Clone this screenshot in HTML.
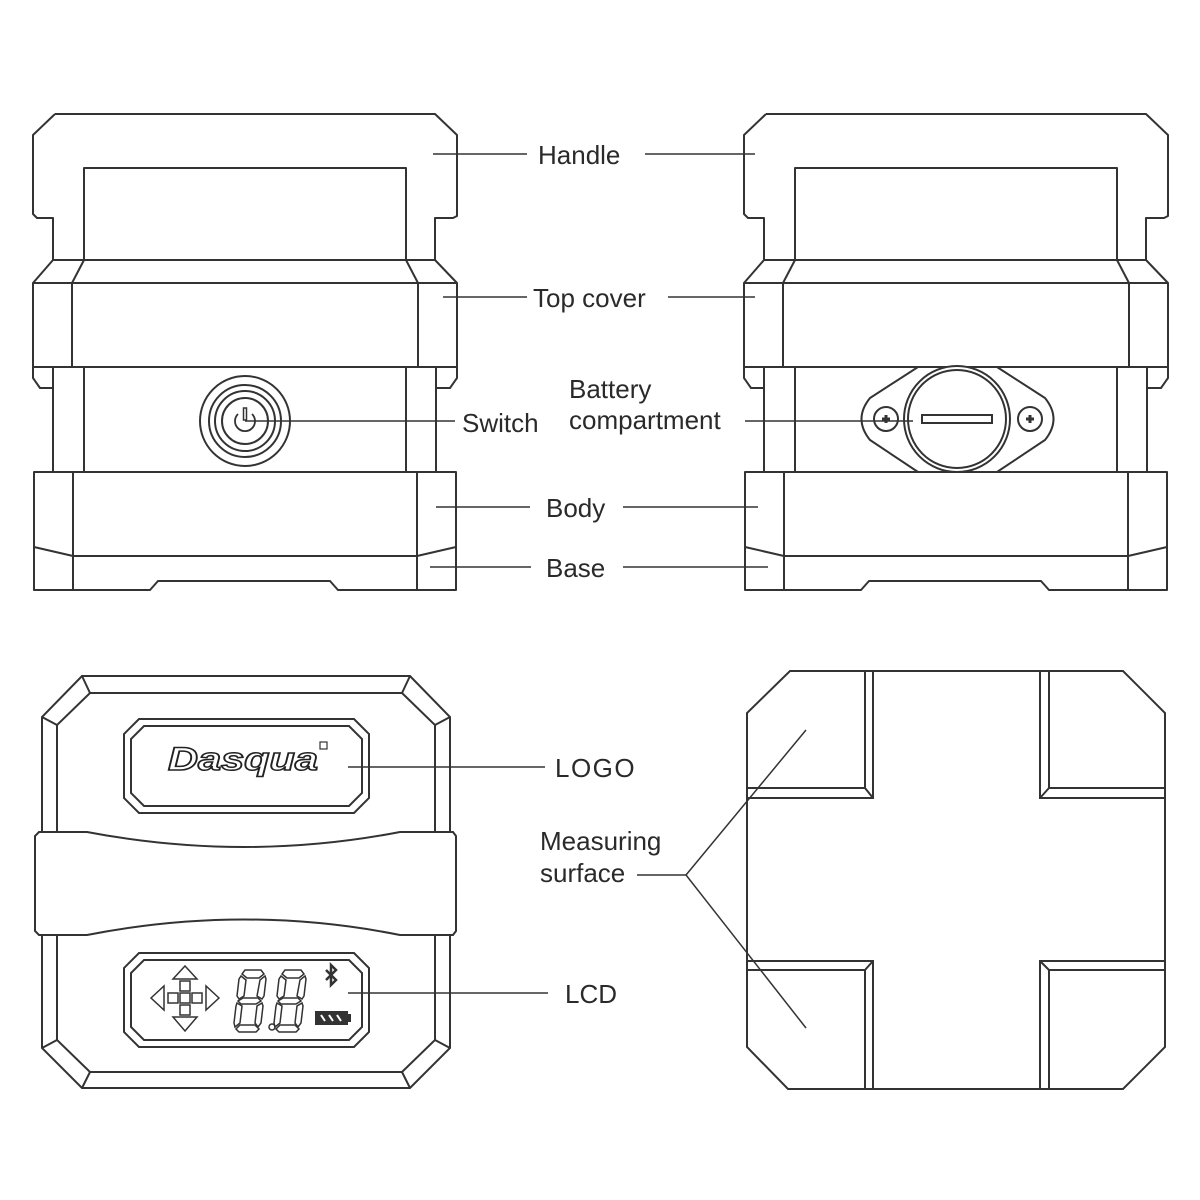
<!DOCTYPE html>
<html><head><meta charset="utf-8"><style>
html,body{margin:0;padding:0;background:#fff;}
svg{display:block;}
text{font-family:"Liberation Sans",sans-serif;fill:#2a2a2a;}
</style></head><body>
<svg width="1200" height="1200" viewBox="0 0 1200 1200" xmlns="http://www.w3.org/2000/svg">
<rect width="1200" height="1200" fill="#fff"/>
<defs>
<g id="dev" fill="none" stroke="#333" stroke-width="2" stroke-linejoin="round">
  <path d="M55,114 L435,114 L457,135 L457,216 L453,218 L435,218 L435,260 M53,260 L53,218 L37,218 L33,214 L33,135 L55,114"/>
  <path d="M84,260 L84,168 L406,168 L406,260"/>
  <path d="M53,260 L435,260"/>
  <path d="M53,260 L33,283 M84,260 L72,283 M406,260 L418,283 M435,260 L457,283"/>
  <rect x="33" y="283" width="424" height="84"/>
  <path d="M72,283 L72,367 M418,283 L418,367"/>
  <path d="M33,367 L33,378 L40,388 L53,388 M457,367 L457,378 L450,388 L437,388"/>
  <path d="M53,367 L53,472 M84,367 L84,472 M406,367 L406,472 M436,367 L436,472"/>
  <path d="M34,472 L456,472 L456,590 L338,590 L330,581 L158,581 L150,590 L34,590 Z"/>
  <path d="M73,472 L73,590 M417,472 L417,590 M73,556 L417,556 M34,547 L73,556 M417,556 L456,547"/>
</g>
</defs>
<use href="#dev"/>
<use href="#dev" transform="translate(711,0)"/>

<g fill="none" stroke="#333" stroke-width="2">
  <!-- switch -->
  <circle cx="245" cy="421" r="45"/>
  <circle cx="245" cy="421" r="36"/>
  <circle cx="245" cy="421" r="30"/>
  <circle cx="245" cy="421" r="23"/>
  <path d="M238,414 A10,10 0 1 0 252,414" stroke-width="1.8"/>
  <rect x="243.5" y="408" width="3" height="12" stroke-width="1.5"/>
  <!-- battery -->
  <path d="M918,367 L997,367 L1045,398 Q1062,419 1045,440 L997,472 L918,472 L870,440 Q853,419 870,398 Z" fill="#fff"/>
  <circle cx="957" cy="419" r="53" fill="#fff"/>
  <circle cx="957" cy="419" r="49"/>
  <circle cx="886" cy="419" r="12"/>
  <circle cx="1030" cy="419" r="12"/>
  <path d="M882,419 h8 M886,415 v8 M1026,419 h8 M1030,415 v8" stroke-width="3"/>
  <rect x="922" y="415" width="70" height="8"/>
</g>

<!-- top labels -->
<g stroke="#333" stroke-width="1.5">
  <line x1="433" y1="154" x2="527" y2="154"/><line x1="645" y1="154" x2="755" y2="154"/>
  <line x1="443" y1="297" x2="527" y2="297"/><line x1="668" y1="297" x2="755" y2="297"/>
  <line x1="245" y1="421" x2="455" y2="421"/>
  <line x1="745" y1="421" x2="913" y2="421"/>
  <line x1="436" y1="507" x2="530" y2="507"/><line x1="623" y1="507" x2="758" y2="507"/>
  <line x1="430" y1="567" x2="531" y2="567"/><line x1="623" y1="567" x2="768" y2="567"/>
</g>
<g font-size="26">
  <text x="538" y="164">Handle</text>
  <text x="533" y="307">Top cover</text>
  <text x="462" y="432">Switch</text>
  <text x="569" y="398">Battery</text>
  <text x="569" y="429">compartment</text>
  <text x="546" y="517">Body</text>
  <text x="546" y="577">Base</text>
</g>

<!-- bottom-left device -->
<g fill="none" stroke="#333" stroke-width="2">
  <path d="M82,676 L410,676 L450,717 L450,1048 L410,1088 L82,1088 L42,1048 L42,717 Z"/>
  <path d="M90,693 L402,693 L435,725 L435,1040 L402,1072 L90,1072 L57,1040 L57,725 Z"/>
  <path d="M82,676 L90,693 M410,676 L402,693 M450,717 L435,725 M42,717 L57,725 M450,1048 L435,1040 M42,1048 L57,1040 M82,1088 L90,1072 M410,1088 L402,1072"/>
  <path d="M39,832 L87,832 Q245,862 400,832 L453,832 L456,836 L456,931 L453,935 L400,935 Q245,904 87,935 L39,935 L35,931 L35,836 Z" fill="#fff"/>
  <path d="M139,719 L354,719 L369,734 L369,798 L354,813 L139,813 L124,798 L124,734 Z"/>
  <path d="M144,726 L349,726 L362,739 L362,793 L349,806 L144,806 L131,793 L131,739 Z"/>
  <path d="M139,953 L354,953 L369,968 L369,1032 L354,1047 L139,1047 L124,1032 L124,968 Z"/>
  <path d="M144,960 L349,960 L362,973 L362,1027 L349,1040 L144,1040 L131,1027 L131,973 Z"/>
  <!-- cross arrows -->
  <g stroke-width="1.5">
    <rect x="180" y="993" width="10" height="10"/>
    <rect x="180" y="981" width="10" height="10"/>
    <rect x="180" y="1005" width="10" height="10"/>
    <rect x="168" y="993" width="10" height="10"/>
    <rect x="192" y="993" width="10" height="10"/>
    <path d="M185,966 L197,979 L173,979 Z"/>
    <path d="M185,1031 L197,1017 L173,1017 Z"/>
    <path d="M151,998 L164,986 L164,1010 Z"/>
    <path d="M219,998 L206,986 L206,1010 Z"/>
  </g>
  <!-- digits -->
  <g stroke-width="1.5">
    <path d="M245,970 L261,970 L264,974 L259,978 L247,978 L242,974 Z"/>
    <path d="M241,976 L246,980 L244,996 L239,999 L237,996 L239,979 Z"/>
    <path d="M265,976 L266,979 L264,996 L262,999 L257,996 L260,980 Z"/>
    <path d="M243,998 L258,998 L261,1001 L256,1004 L241,1004 L238,1001 Z"/>
    <path d="M237,1003 L242,1006 L240,1023 L235,1027 L234,1023 L236,1006 Z"/>
    <path d="M262,1003 L263,1006 L261,1023 L258,1027 L255,1023 L257,1006 Z"/>
    <path d="M240,1025 L255,1025 L259,1029 L256,1032 L239,1032 L236,1029 Z"/>
    <circle cx="272" cy="1027" r="3"/>
    <g transform="translate(40,0)">
    <path d="M245,970 L261,970 L264,974 L259,978 L247,978 L242,974 Z"/>
    <path d="M241,976 L246,980 L244,996 L239,999 L237,996 L239,979 Z"/>
    <path d="M265,976 L266,979 L264,996 L262,999 L257,996 L260,980 Z"/>
    <path d="M243,998 L258,998 L261,1001 L256,1004 L241,1004 L238,1001 Z"/>
    <path d="M237,1003 L242,1006 L240,1023 L235,1027 L234,1023 L236,1006 Z"/>
    <path d="M262,1003 L263,1006 L261,1023 L258,1027 L255,1023 L257,1006 Z"/>
    <path d="M240,1025 L255,1025 L259,1029 L256,1032 L239,1032 L236,1029 Z"/>
    </g>
  </g>
  <path d="M326,970 L336,980 L331,985 L331,965 L336,970 L326,980" stroke-width="2.5"/>
  <rect x="316" y="1012" width="31" height="12" fill="#333"/>
  <rect x="347" y="1015" width="3" height="6" fill="#333"/>
  <path d="M321,1015 l4,6 M329,1015 l4,6 M337,1015 l4,6" stroke="#fff" stroke-width="2"/>
</g>
<text x="168" y="770" font-size="32" font-style="italic" font-weight="bold" textLength="150" lengthAdjust="spacingAndGlyphs" style="fill:#fff;stroke:#222;stroke-width:1.5">Dasqua</text>
<rect x="320" y="742" width="7" height="7" fill="none" stroke="#333" stroke-width="1.2"/>

<g stroke="#333" stroke-width="1.5">
  <line x1="348" y1="767" x2="545" y2="767"/>
  <line x1="348" y1="993" x2="548" y2="993"/>
  <line x1="637" y1="875" x2="686" y2="875"/>
  <line x1="686" y1="875" x2="806" y2="730"/>
  <line x1="686" y1="875" x2="806" y2="1028"/>
</g>
<g font-size="26">
  <text x="555" y="777" letter-spacing="1.5">LOGO</text>
  <text x="565" y="1003">LCD</text>
  <text x="540" y="850">Measuring</text>
  <text x="540" y="882">surface</text>
</g>

<!-- bottom-right -->
<g fill="none" stroke="#333" stroke-width="2">
  <path d="M790,671 L1123,671 L1165,713 L1165,1047 L1123,1089 L788,1089 L747,1047 L747,713 Z"/>
  <path d="M865,671 L865,788 L747,788 M873,671 L873,798 L747,798 M865,788 L873,798"/>
  <path d="M1049,671 L1049,788 L1165,788 M1040,671 L1040,798 L1165,798 M1049,788 L1040,798"/>
  <path d="M865,1089 L865,970 L747,970 M873,1089 L873,961 L747,961 M865,970 L873,961"/>
  <path d="M1049,1089 L1049,970 L1165,970 M1040,1089 L1040,961 L1165,961 M1049,970 L1040,961"/>
</g>
</svg>
</body></html>
